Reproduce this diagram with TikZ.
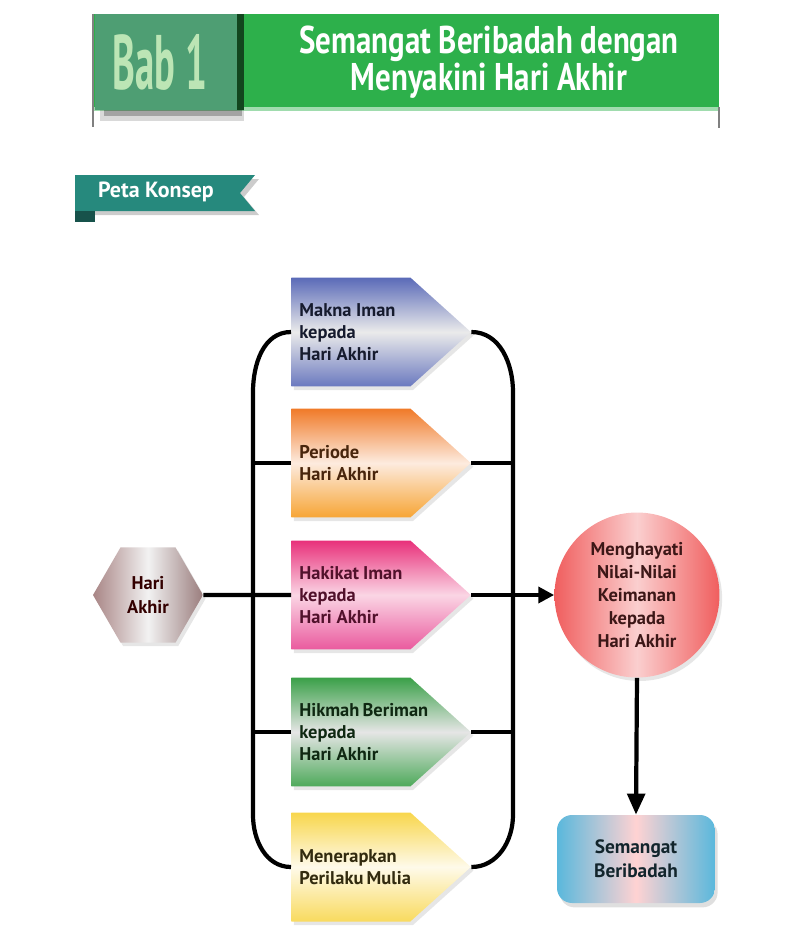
\documentclass[tikz,border=0pt]{standalone}
\usepackage{fontspec}
\setmainfont{PT Sans}
\newfontfamily\judulfont[FakeStretch=0.8]{PT Sans}
\newfontfamily\babfont[FakeStretch=0.5]{PT Sans}
\usetikzlibrary{shapes.geometric,shapes.symbols,arrows.meta,shadows}

\definecolor{hijaubanner}{HTML}{2DB04B}
\definecolor{hijaubab}{HTML}{4E9E73}
\definecolor{teksbab}{HTML}{BCE5B5}
\definecolor{tosca}{HTML}{26897D}
\definecolor{biru}{HTML}{5A6AB8}
\definecolor{oranye}{HTML}{F07A28}
\definecolor{oranye2}{HTML}{F7A535}
\definecolor{merahmuda}{HTML}{E8307A}
\definecolor{merahmuda2}{HTML}{EA5A9E}
\definecolor{hijau}{HTML}{3AA048}
\definecolor{kuning}{HTML}{F8D64C}
\definecolor{salem}{HTML}{F05E5E}
\definecolor{birulangit}{HTML}{5AB8DC}

\begin{document}
\begin{tikzpicture}[
  x=0.02cm, y=-0.02cm,
  konsep/.style={signal, signal to=east, signal pointer angle=84, anchor=west,
    text width=2.06cm, inner xsep=0.16cm, minimum height=2.18cm, align=flush left,
    font=\fontsize{10.5}{12.4}\selectfont\bfseries,
    execute at begin node={\hyphenpenalty=10000\lefthyphenmin=64},
    drop shadow={opacity=.2, shadow xshift=1.5pt, shadow yshift=-2pt}},
  garis/.style={line width=2.4pt},
  panah/.style={line width=2.4pt, -{Triangle[length=9pt,width=9pt]}}
]
  \useasboundingbox (0,0) rectangle (795,951);

  % header
  \fill[hijaubanner] (93,14) rectangle (719,107);
  \fill[hijaubanner!45] (93,107) rectangle (719,111);
  \draw[gray, line width=0.8pt] (93,14) -- (93,127);
  \draw[gray, line width=0.8pt] (719,107) -- (719,128);
  \fill[black, opacity=.15] (100,110) rectangle (244,121);
  \fill[black, opacity=.25] (104,110) rectangle (242,116);
  \fill[black!60!hijaubanner] (237,14) rectangle (244,110);
  \fill[hijaubab] (95,14) rectangle (237,110);
  \node[font=\babfont\bfseries\fontsize{44}{44}\selectfont, text=teksbab] (bab) at (160,62) {Bab 1};
  \node[font=\judulfont\bfseries\fontsize{22}{17}\selectfont, text=white, align=center] (judul) at (489,62) {Semangat Beribadah dengan\\Menyakini Hari Akhir};

  % peta konsep
  \fill[black, opacity=.2] (79,179) -- (259,179) -- (244,197) -- (259,215) -- (79,215) -- cycle;
  \fill[tosca] (75,175) -- (255,175) -- (240,193) -- (255,211) -- (75,211) -- cycle;
  \fill[tosca!60!black] (75,211) rectangle (95,222);
  \node[font=\bfseries\fontsize{12.5}{12.5}\selectfont, text=white] (peta) at (156,192) {Peta Konsep};

  % kotak konsep
  \node[konsep, top color=biru, bottom color=biru!90!white, middle color=black!8, text=biru!25!black] (makna) at (291,332) {Makna~Iman\\kepada\\Hari~Akhir};
  \node[konsep, top color=oranye, bottom color=oranye2, middle color=oranye!15!white, text=oranye!30!black] (periode) at (291,463) {Periode\\Hari~Akhir};
  \node[konsep, top color=merahmuda, bottom color=merahmuda2, middle color=merahmuda!20!white, text=merahmuda!35!black] (hakikat) at (291,595) {Hakikat~Iman\\kepada\\Hari~Akhir};
  \node[konsep, top color=hijau, bottom color=hijau!90!white, middle color=black!10, text=hijau!25!black] (hikmah) at (291,732) {Hikmah~Beriman\\kepada\\Hari~Akhir};
  \node[konsep, top color=kuning, bottom color=kuning!90!white, middle color=kuning!12!white, text=kuning!20!black] (menerapkan) at (291,867) {Menerapkan\\Perilaku~Mulia};

  \node[regular polygon, regular polygon sides=6, minimum size=2.2cm, inner sep=0pt,
    left color=black!30!pink!80!gray, right color=black!35!pink!70!gray, middle color=black!5,
    text=black!80!red, align=center, font=\fontsize{10.5}{13.6}\selectfont\bfseries,
    drop shadow={opacity=.2, shadow xshift=1.5pt, shadow yshift=-2pt}] (hari) at (148,595) {Hari\\Akhir};

  \node[circle, minimum size=3.3cm, inner sep=0pt, left color=salem, right color=salem, middle color=salem!30!white,
    text=salem!25!black, align=center, font=\fontsize{10.5}{13}\selectfont\bfseries,
    drop shadow={opacity=.2, shadow xshift=1.5pt, shadow yshift=-2pt}] (hayati) at (637,595) {Menghayati\\Nilai-Nilai\\Keimanan\\kepada\\Hari Akhir};

  \node[rectangle, rounded corners=0.3cm, minimum width=3.16cm, minimum height=1.76cm,
    left color=birulangit, right color=birulangit, middle color=pink!70!white,
    text=birulangit!20!black, align=center, font=\fontsize{11}{13.6}\selectfont\bfseries,
    drop shadow={opacity=.25, shadow xshift=1.5pt, shadow yshift=-2.5pt}] (semangat) at (636,859) {Semangat\\Beribadah};

  % kurung kiri dan kanan
  \coordinate (kiriatas) at (253,392);
  \coordinate (kiribawah) at (253,815);
  \coordinate (kananatas) at (513,392);
  \coordinate (kananbawah) at (513,815);
  \draw[garis] (makna.west) to[out=180,in=90] (kiriatas) -- (kiribawah) to[out=-90,in=180] (menerapkan.west);
  \draw[garis] (makna.east) to[out=0,in=90] (kananatas) -- (kananbawah) to[out=-90,in=0] (menerapkan.east);
  \draw[garis] (periode.west) -- (periode.west -| kiriatas);
  \draw[garis] (periode.east) -- (periode.east -| kananatas);
  \draw[garis] (hikmah.west) -- (hikmah.west -| kiriatas);
  \draw[garis] (hikmah.east) -- (hikmah.east -| kananatas);

  % alur utama
  \draw[garis] (hari.east) -- (hakikat.west);
  \draw[panah] (hakikat.east) -- (hayati.west);
  \draw[panah, -{Triangle[length=12pt,width=10pt]}] (hayati.south) -- (semangat.north);
\end{tikzpicture}
\end{document}
